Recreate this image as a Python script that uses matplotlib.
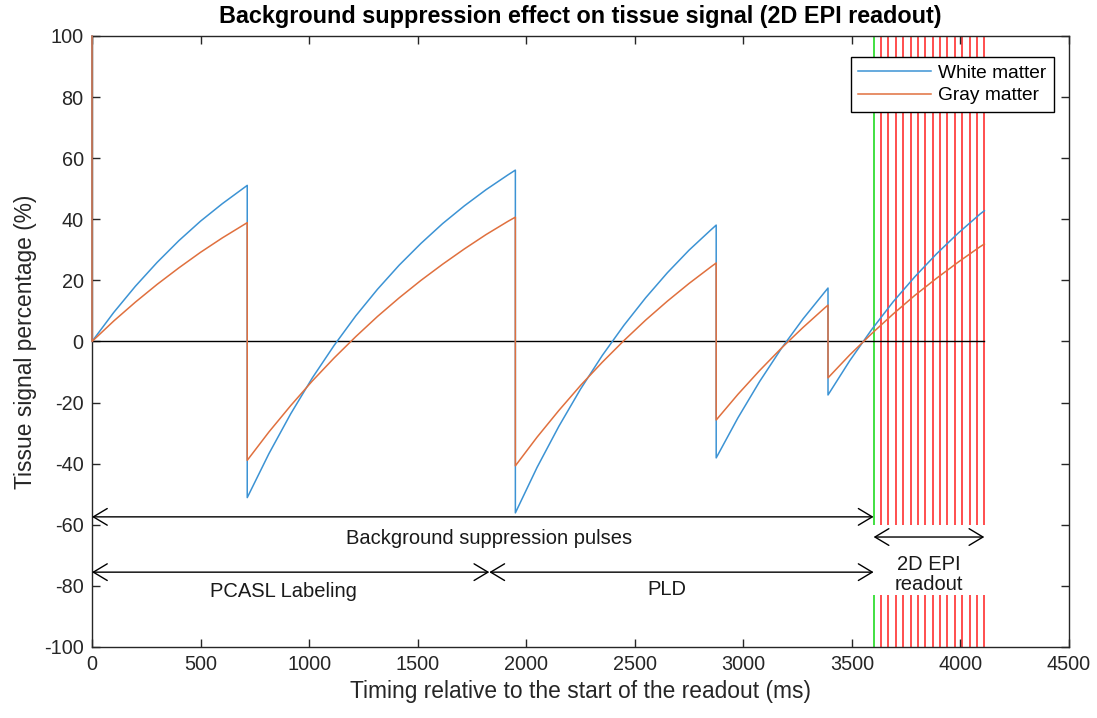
import matplotlib
matplotlib.use("Agg")
import matplotlib.pyplot as plt

plt.rcParams['font.family'] = ['Liberation Sans', 'DejaVu Sans']
plt.rcParams['axes.unicode_minus'] = False

# tissue signal (%), duplicated times mark the inversion pulses
time_ms = [0, 0, 100, 200, 300, 400, 500, 600, 715,
           715, 815, 915, 1015, 1115, 1215, 1315, 1415, 1515, 1615, 1715, 1815, 1915, 1950,
           1950, 2050, 2150, 2250, 2350, 2450, 2550, 2650, 2750, 2850, 2875,
           2875, 2975, 3075, 3175, 3275, 3375, 3390,
           3390, 3490, 3590, 3690, 3790, 3890, 3990, 4090, 4110]
white_matter = [100, 0, 9.5, 18.1, 25.9, 33.0, 39.4, 45.1, 51.1,
                -51.1, -36.7, -23.7, -11.9, -1.3, 8.4, 17.1, 25.0, 32.1, 38.6, 44.4, 49.7, 54.5, 56.1,
                -56.1, -41.2, -27.8, -15.6, -4.6, 5.3, 14.3, 22.5, 29.9, 36.5, 38.1,
                -38.1, -25.0, -13.1, -2.3, 7.4, 16.2, 17.5,
                -17.5, -6.3, 3.8, 13.0, 21.2, 28.7, 35.5, 41.7, 42.8]
gray_matter = [100, 0, 6.7, 12.9, 18.7, 24.1, 29.2, 33.9, 38.9,
               -38.9, -29.6, -21.0, -12.9, -5.4, 1.6, 8.2, 14.3, 20.0, 25.3, 30.3, 35.0, 39.3, 40.7,
               -40.7, -31.3, -22.6, -14.4, -6.8, 0.3, 7.0, 13.2, 19.0, 24.4, 25.7,
               -25.7, -17.3, -9.5, -2.2, 4.6, 11.0, 11.9,
               -11.9, -4.4, 2.5, 9.0, 15.1, 20.7, 26.0, 31.0, 31.9]

readout_start = 3600
slice_times = [3634, 3668, 3702, 3736, 3770, 3804, 3838, 3872,
               3906, 3940, 3974, 4008, 4042, 4076, 4110]
labeling_end = 1830

fig = plt.figure(figsize=(10.97, 7.18), dpi=100)
ax = fig.add_axes([92 / 1097, 71 / 718, 977 / 1097, 611 / 718])

blue = '#3c93d4'
orange = '#e0703e'

# readout markers, with a gap left for the annotation text
for segs in [(100, -60), (-83, -100)]:
    ax.vlines(readout_start, segs[1], segs[0], color='#33dd33', lw=1.3, zorder=1)
    ax.vlines(slice_times, segs[1], segs[0], color='#ff3030', lw=1.2, zorder=1)

ax.plot([0, slice_times[-1]], [0, 0], color='k', lw=1, zorder=2)
ax.plot(time_ms, white_matter, color=blue, lw=1.1, label='White matter', zorder=3, clip_on=False)
ax.plot(time_ms, gray_matter, color=orange, lw=1.1, label='Gray matter', zorder=3, clip_on=False)

arrow = dict(arrowstyle='<->,head_length=0.5,head_width=0.3', lw=1, color='k',
             shrinkA=0, shrinkB=0, mutation_scale=20)
ax.annotate('', xy=(readout_start, -57.4), xytext=(0, -57.4), arrowprops=arrow)
ax.annotate('', xy=(labeling_end, -75.5), xytext=(0, -75.5), arrowprops=arrow)
ax.annotate('', xy=(readout_start, -75.5), xytext=(labeling_end, -75.5), arrowprops=arrow)
ax.annotate('', xy=(slice_times[-1], -64), xytext=(readout_start, -64), arrowprops=arrow)

txt = dict(fontsize=14.5, ha='center', va='center', color='#1a1a1a')
ax.text(1830, -64.5, 'Background suppression pulses', **txt)
ax.text(880, -81.7, 'PCASL Labeling', **txt)
ax.text(2650, -81.2, 'PLD', **txt)
ax.text((readout_start + slice_times[-1]) / 2, -76.3, '2D EPI\nreadout', linespacing=1.05, **txt)

ax.set_xlim(0, 4500)
ax.set_ylim(-100, 100)
ax.set_xticks(range(0, 4501, 500))
ax.set_yticks(range(-100, 101, 20))
ax.tick_params(direction='in', top=True, right=True, length=6, width=1,
               labelsize=14.3, colors='#262626', pad=6)
for sp in ax.spines.values():
    sp.set_color('#262626')
    sp.set_linewidth(1)

ax.set_xlabel('Timing relative to the start of the readout (ms)', fontsize=16.4, color='#262626', labelpad=4)
ax.set_ylabel('Tissue signal percentage (%)', fontsize=16.4, color='#262626', labelpad=5)
ax.set_title('Background suppression effect on tissue signal (2D EPI readout)',
             fontsize=16.8, fontweight='bold', pad=9)

leg = ax.legend(loc='upper right', bbox_to_anchor=(0.9846, 0.9656), borderaxespad=0,
                fontsize=13.8, handlelength=3.8, fancybox=False, framealpha=1,
                borderpad=0.4, labelspacing=0.25, handletextpad=0.35)
leg.get_frame().set_edgecolor('k')
leg.get_frame().set_linewidth(1)

fig.savefig('out.png', dpi=100)
